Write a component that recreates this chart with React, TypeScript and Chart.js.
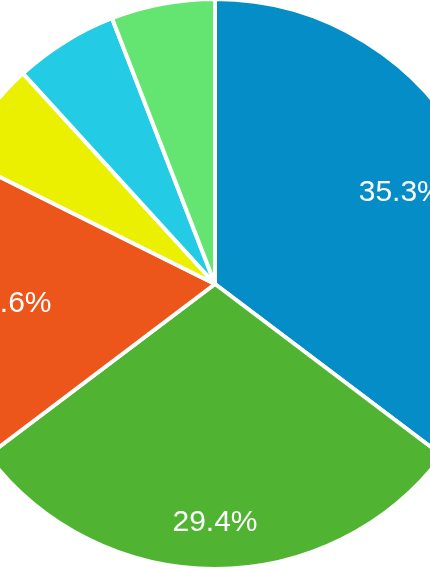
import React, { useEffect, useRef } from "react";
import { Chart, registerables } from "chart.js";

Chart.register(...registerables);

const categories = ["A", "B", "C", "D", "E", "F"];
const values = [6, 5, 3, 1, 1, 1];
const colors = ["#058DC7", "#50B432", "#ED561B", "#EBF000", "#24CBE5", "#64E572"];

const labelPlugin = {
  id: "pctLabels",
  afterDatasetsDraw(chart: any, _args: any, opts: any) {
    const ctx = chart.ctx;
    const meta = chart.getDatasetMeta(0);
    const data = chart.data.datasets[0].data as number[];
    const total = data.reduce((a, b) => a + b, 0);
    const factors: number[] = opts.factors || [];
    ctx.save();
    ctx.fillStyle = "#ffffff";
    ctx.font = "30px 'Liberation Sans', Arial, sans-serif";
    ctx.textAlign = "center";
    ctx.textBaseline = "middle";
    meta.data.forEach((arc: any, i: number) => {
      const pct = (data[i] / total) * 100;
      if (pct < 10) return;
      const p = arc.getProps(["x", "y", "startAngle", "endAngle", "outerRadius"], true);
      const mid = (p.startAngle + p.endAngle) / 2;
      const f = factors[i] ?? 0.73;
      const x = p.x + Math.cos(mid) * p.outerRadius * f;
      const y = p.y + Math.sin(mid) * p.outerRadius * f;
      ctx.fillText(pct.toFixed(1) + "%", x, y + 1);
    });
    ctx.restore();
  },
};

export default function App() {
  const ref = useRef<HTMLCanvasElement | null>(null);
  useEffect(() => {
    if (!ref.current) return;
    const chart = new Chart(ref.current, {
      type: "pie",
      data: {
        labels: categories,
        datasets: [
          {
            data: values,
            backgroundColor: colors,
            borderColor: "#ffffff",
            borderWidth: 4,
          },
        ],
      },
      options: {
        animation: false,
        responsive: false,
        maintainAspectRatio: false,
        layout: { padding: 0 },
        plugins: {
          legend: { display: false },
          tooltip: { enabled: false },
          pctLabels: { factors: [0.73, 0.835, 0.726] },
        } as any,
      },
      plugins: [labelPlugin],
    });
    return () => chart.destroy();
  }, []);
  return (
    <div
      style={{
        position: "fixed",
        left: 0,
        top: 0,
        width: 430,
        height: 570,
        overflow: "hidden",
        background: "#ffffff",
      }}
    >
      <canvas
        ref={ref}
        width={574}
        height={574}
        style={{ position: "absolute", left: -72, top: -3, width: 574, height: 574 }}
      />
    </div>
  );
}
